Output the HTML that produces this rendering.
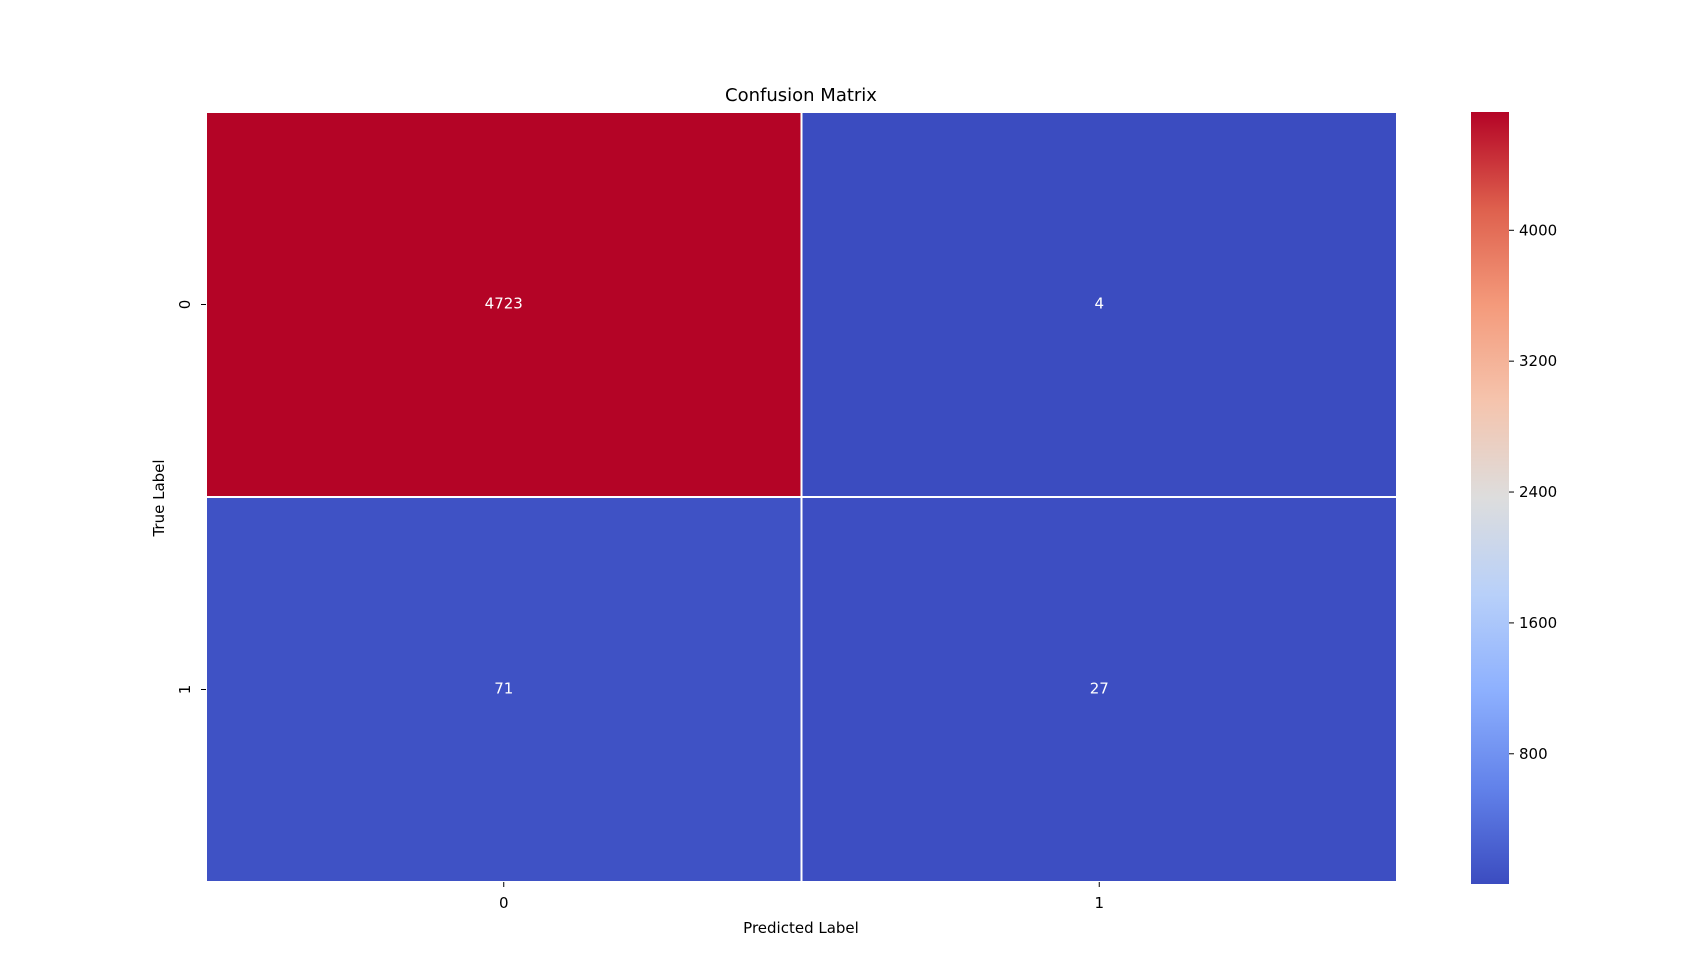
<!DOCTYPE html>
<html><head><meta charset="utf-8"><style>
body{margin:0;background:#fff;}
svg{display:block;font-family:"DejaVu Sans","Liberation Sans",sans-serif;}
</style></head><body>
<svg id="chart" width="1689" height="969" viewBox="0 0 1689 969" xmlns="http://www.w3.org/2000/svg">
<defs><linearGradient id="cbg" x1="0" y1="1" x2="0" y2="0"></linearGradient></defs>
<text x="801" y="101" text-anchor="middle" font-size="18" fill="#000">Confusion Matrix</text>
<g id="cells"></g>
<g id="axes"></g>
<text x="801" y="933" text-anchor="middle" font-size="15" fill="#000">Predicted Label</text>
<text transform="translate(164,498) rotate(-90)" text-anchor="middle" font-size="15" fill="#000">True Label</text>
<rect x="1471" y="112" width="38" height="772" fill="url(#cbg)"/>
<g id="cbticks"></g>
</svg>
<script>
const rowLabels = ["0","1"];
const colLabels = ["0","1"];
const values = [[4723,4],[71,27]];
const cbTicks = [800,1600,2400,3200,4000];

const stops=[[59,76,192],[98,130,234],[141,176,254],[184,208,249],[221,221,221],[245,196,173],[244,154,123],[222,96,77],[180,4,38]];
function cmap(t){t=Math.max(0,Math.min(1,t));const p=t*8,i=Math.min(7,Math.floor(p)),f=p-i;const a=stops[i],b=stops[i+1];return `rgb(${a.map((v,k)=>Math.round(v+(b[k]-v)*f)).join(',')})`;}
const flat=values.flat(),vmin=Math.min(...flat),vmax=Math.max(...flat);
const L=206,R=1397,T=112,B=882;
const cw=(R-L)/colLabels.length,ch=(B-T)/rowLabels.length;
const NS="http://www.w3.org/2000/svg";
function mk(tag,attrs,parent,text){const e=document.createElementNS(NS,tag);for(const k in attrs)e.setAttribute(k,attrs[k]);if(text!==undefined)e.textContent=text;parent.appendChild(e);return e;}
const cells=document.getElementById('cells'),axes=document.getElementById('axes');
values.forEach((row,i)=>row.forEach((v,j)=>{
  const t=(v-vmin)/(vmax-vmin);
  const r=mk('rect',{x:L+j*cw,y:T+i*ch,width:cw,height:ch,fill:cmap(t),stroke:'#fff','stroke-width':2},cells);
  
  
  const tx=mk('text',{x:L+(j+.5)*cw,y:T+(i+.5)*ch+4,'text-anchor':'middle','font-size':15,fill:'#fff'},cells,String(v));
  
  
}));
colLabels.forEach((l,j)=>{const x=L+(j+.5)*cw;
  mk('line',{x1:x,x2:x,y1:B,y2:B+5,stroke:'#000'},axes);
  const t=mk('text',{x:x,y:B+26,'text-anchor':'middle','font-size':15},axes,l);
  
  });
rowLabels.forEach((l,i)=>{const y=T+(i+.5)*ch;
  mk('line',{x1:L-5,x2:L,y1:y,y2:y,stroke:'#000'},axes);
  const t=mk('text',{transform:`translate(190,${y}) rotate(-90)`,'text-anchor':'middle','font-size':15},axes,l);
  
  });
const g=document.getElementById('cbg');
for(let k=0;k<=8;k++){mk('stop',{offset:k/8,'stop-color':cmap(k/8)},g);}
const cbT=112,cbB=884,cbg=document.getElementById('cbticks');
cbTicks.forEach(v=>{const y=cbB-(v-vmin)/(vmax-vmin)*(cbB-cbT);
  mk('line',{x1:1509,x2:1514,y1:y,y2:y,stroke:'#000'},cbg);
  const t=mk('text',{x:1519,y:y+5,'font-size':15},cbg,String(v));
  
  });
</script>
</body></html>
